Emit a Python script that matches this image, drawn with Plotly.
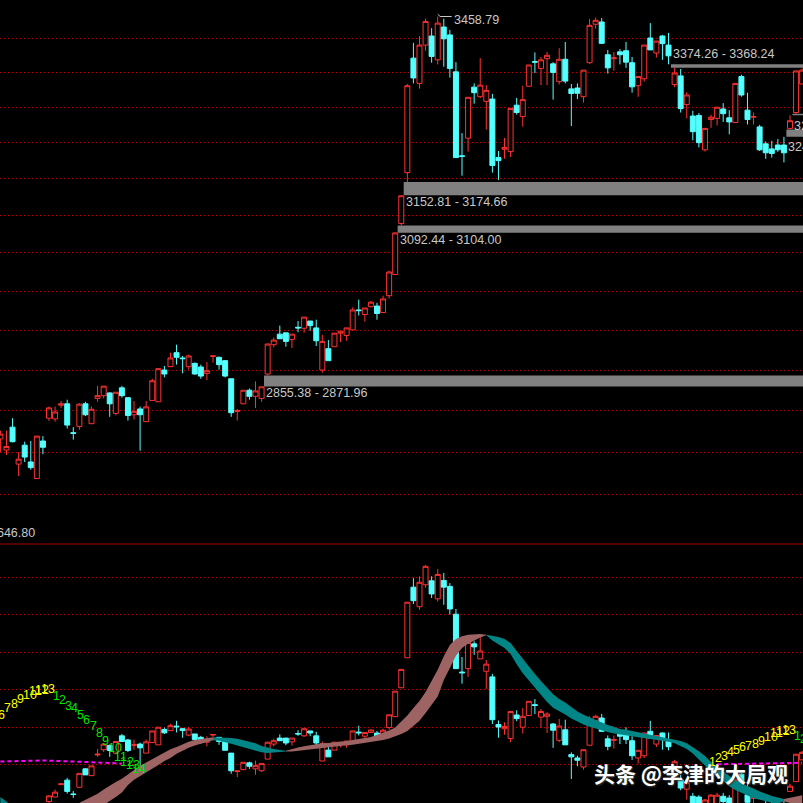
import math
import plotly.graph_objects as go

bars = list(range(133))

# ---------------- top panel (index K-line, log scale) ----------------
top_open = [2779, 2763, 2796, 2743, 2770, 2746, 2722.5, 2776, 2809, 2808,
            2828, 2830, 2788, 2797, 2830, 2801, 2838, 2842, 2846, 2816,
            2853.5, 2839, 2814, 2822.5, 2804, 2835, 2833, 2880, 2885, 2906,
            2898, 2885, 2890, 2884.5, 2875, 2900.5, 2899, 2894, 2867, 2819,
            2830, 2850, 2841, 2838, 2874, 2918, 2934, 2936, 2926, 2944.5,
            2943, 2954, 2943.5, 2880, 2912, 2915, 2935.5, 2932, 2940.5, 2971,
            2964, 2976, 2977, 2967, 2993, 3026, 3107, 3190, 3385, 3341,
            3408, 3424, 3382, 3440, 3426, 3361, 3218, 3247.5, 3334.5, 3318,
            3310, 3314, 3215, 3229, 3225, 3303.5, 3284, 3336, 3379, 3367,
            3384, 3375, 3344, 3383, 3331.5, 3333, 3318, 3377, 3445, 3449,
            3391, 3384, 3396, 3398, 3377, 3337, 3349, 3420.5, 3394, 3424,
            3408, 3339, 3354, 3304.5, 3285, 3286, 3228, 3279, 3281, 3297,
            3282, 3274, 3353, 3295, 3283, 3266.5, 3238, 3229.5, 3236, 3236,
            3264, 3291, 3340]
top_high = [2791, 2791, 2809, 2760, 2775, 2776, 2783.4, 2783, 2826, 2826,
            2834, 2836, 2796, 2831, 2833, 2826, 2856.5, 2856, 2847, 2847,
            2856.5, 2840, 2834, 2826, 2834, 2867, 2882, 2886, 2906, 2918,
            2901, 2903, 2891, 2888, 2892, 2901.5, 2900, 2895, 2867, 2822.5,
            2850, 2852.5, 2863, 2855.38, 2920, 2929, 2947, 2936, 2934, 2954,
            2960, 2954, 2956, 2933, 2925, 2935.5, 2939, 2943.5, 2975, 2987,
            2974, 2985, 2982, 2993, 3032, 3092.44, 3152.81, 3340, 3412, 3424,
            3455, 3438, 3458.79, 3455, 3435, 3378, 3256, 3317, 3341, 3385,
            3338, 3323, 3226, 3248, 3298, 3316, 3337, 3373, 3395, 3387,
            3396, 3378, 3402.5, 3413.5, 3340, 3341, 3364, 3454.5, 3457, 3456,
            3399.5, 3396, 3401, 3413.5, 3387, 3353, 3408, 3447, 3415, 3426,
            3429.5, 3368.24, 3366, 3326, 3294, 3290, 3264, 3287, 3300, 3307,
            3295, 3341, 3356, 3325, 3291, 3270, 3242, 3243, 3246, 3249.71,
            3286.12, 3363, 3367]
top_low = [2760, 2756, 2774, 2726, 2746, 2735, 2722, 2757, 2805, 2804,
           2824, 2794, 2778, 2792, 2812, 2801, 2833, 2838, 2811, 2813,
           2839, 2805.5, 2807, 2762, 2804, 2835, 2833, 2869, 2884.5, 2888,
           2875, 2880.5, 2873, 2867, 2865, 2891, 2880.5, 2869, 2811, 2805.5,
           2830, 2836, 2824, 2833, 2871.96, 2914, 2927, 2915, 2913, 2937,
           2936, 2939, 2916, 2876, 2894, 2915, 2922, 2924, 2940.5, 2962.5,
           2953, 2975, 2956, 2967, 2988.5, 3026, 3104.00, 3174.66, 3341, 3332,
           3398, 3377, 3374, 3370, 3351, 3215, 3185, 3225, 3306, 3316,
           3262, 3190, 3178, 3213, 3216, 3287.5, 3267, 3336, 3359, 3338,
           3338, 3313, 3339, 3341, 3268, 3314, 3308, 3375, 3437, 3410,
           3358, 3363, 3374, 3368, 3325, 3318, 3344, 3399.5, 3386, 3382,
           3374.26, 3334.5, 3291, 3281, 3244, 3232, 3225, 3265, 3269, 3275,
           3254, 3274, 3318, 3270.5, 3270.5, 3226, 3213, 3215, 3224.5, 3207,
           3262.35, 3288.90, 3340]
top_close = [2786, 2768, 2775, 2750, 2753, 2738, 2783, 2767, 2824, 2818,
             2830, 2799, 2787, 2829.5, 2814, 2822, 2842, 2856, 2830, 2847,
             2842, 2813, 2819, 2814, 2825.5, 2864, 2882, 2874, 2898, 2899,
             2897, 2901, 2874, 2871, 2879, 2901, 2888, 2871, 2817, 2820,
             2850, 2841, 2849, 2855, 2919, 2925, 2927, 2923, 2934, 2943.5,
             2960, 2947, 2924, 2923, 2894, 2935.5, 2938.5, 2943.5, 2971, 2970,
             2974, 2983, 2965.5, 2988, 3030, 3092, 3152, 3337, 3350.5, 3408,
             3450, 3388, 3447, 3419, 3367, 3215, 3217, 3317, 3325, 3338,
             3329, 3202, 3210, 3232, 3298, 3291, 3313, 3373, 3378, 3382,
             3390, 3360, 3383, 3345, 3323.5, 3324, 3364, 3443, 3452, 3411,
             3368, 3385.5, 3391, 3378, 3335, 3353, 3408, 3399.5, 3415, 3410.5,
             3389, 3359, 3297.6, 3321, 3258.5, 3240, 3264, 3283, 3300, 3289,
             3275, 3341, 3321, 3279, 3284, 3228, 3223, 3222, 3228, 3223,
             3277, 3362.6, 3364]

# ---------------- bottom panel (oscillator K-line) ----------------
ind_open = [-4.2, -5.8, -2.4, -7.9, -5.1, -7.6, -10.0, -4.5, 0.2, 1.4,
            4.7, 5.9, 2.2, 4.0, 8.9, 7.1, 12.6, 14.0, 15.1, 13.1,
            17.7, 16.6, 15.2, 15.5, 13.1, 15.9, 15.3, 19.4, 19.1, 20.3,
            19.6, 17.9, 18.2, 17.3, 16.0, 17.9, 17.3, 16.2, 13.1, 8.2,
            8.7, 10.5, 8.9, 8.4, 11.5, 15.5, 17.1, 17.1, 16.1, 18.3,
            17.7, 19.0, 17.7, 11.0, 13.9, 13.9, 15.5, 15.3, 15.8, 18.7,
            17.6, 18.6, 18.45, 17.1, 19.9, 22.8, 30.5, 38.5, 57.3, 52.1,
            57.95, 59.0, 54.2, 59.1, 57.5, 50.1, 34.7, 35.6, 42.2, 38.2,
            34.9, 33.4, 20.7, 19.6, 17.0, 23.25, 20.0, 23.1, 26.0, 22.7,
            22.9, 20.85, 16.5, 19.3, 12.7, 11.8, 9.4, 15.2, 21.7, 22.45,
            16.9, 16.5, 18.2, 18.45, 16.4, 11.8, 12.4, 18.9, 15.5, 18.45,
            16.6, 9.6, 6.0, 3.5, 1.6, 1.4, -1.0, -1.0, -1.5, 1.6,
            1.15, -1.5, 7.5, 2.0, 1.07, -0.7, -1.0, -1.25, -0.7, -0.7,
            2.9, 5.5, 11.3]
ind_high = [-3.0, -3.0, -1.1, -6.1, -4.6, -4.5, -3.8, -3.8, 1.9, 3.4,
            5.0, 6.5, 3.0, 7.7, 9.1, 9.7, 14.2, 15.5, 15.3, 16.3,
            18.2, 16.9, 16.7, 15.9, 16.7, 19.0, 20.0, 19.9, 20.9, 21.7,
            19.8, 20.0, 18.2, 17.7, 17.6, 18.1, 17.4, 16.5, 13.1, 8.35,
            10.65, 10.8, 11.1, 10.3, 16.0, 16.9, 18.1, 17.1, 17.1, 19.2,
            19.6, 19.0, 18.8, 16.2, 15.2, 16.0, 16.1, 16.3, 19.0, 20.4,
            18.6, 19.4, 19.0, 19.6, 23.3, 29.6, 35.4, 53.3, 59.7, 60.2,
            63.2, 60.2, 62.1, 61.1, 58.4, 51.5, 38.7, 42.6, 42.9, 44.4,
            37.9, 34.2, 21.8, 21.3, 24.2, 24.5, 25.1, 26.9, 27.5, 24.85,
            24.0, 21.1, 22.2, 22.0, 13.3, 12.4, 14.0, 22.9, 23.3, 23.5,
            17.8, 17.8, 19.3, 20.0, 17.6, 13.85, 18.45, 21.7, 17.8, 18.6,
            18.6, 11.3, 7.35, 6.0, 2.5, 1.9, 0.9, 2.2, 2.5, 2.5,
            1.9, 6.0, 8.0, 5.1, 2.0, -0.3, 0.6, 0.6, 0.35, 0.9,
            4.95, 12.9, 13.7]
ind_low = [-6.1, -6.6, -4.6, -9.6, -7.6, -8.7, -10.0, -6.4, -0.2, 1.4,
           4.6, 2.3, 1.2, 4.0, 7.3, 7.1, 12.1, 13.4, 12.1, 13.1,
           16.2, 13.4, 14.0, 8.6, 13.1, 15.9, 15.3, 18.2, 19.0, 18.6,
           17.2, 17.6, 16.6, 15.6, 14.9, 17.4, 15.3, 13.7, 7.6, 6.7,
           8.7, 8.9, 7.35, 8.1, 11.5, 14.9, 16.4, 15.2, 15.1, 17.7,
           17.4, 17.6, 14.9, 11.0, 12.1, 13.9, 14.65, 14.5, 15.8, 17.8,
           16.5, 18.55, 16.5, 17.1, 19.3, 22.8, 30.5, 38.5, 52.8, 51.3,
           57.15, 54.4, 53.5, 52.6, 50.0, 35.6, 31.6, 33.4, 39.3, 38.2,
           30.2, 20.85, 17.2, 18.0, 16.0, 21.6, 18.3, 23.1, 23.5, 19.8,
           18.45, 14.5, 16.0, 15.3, 6.2, 9.6, 8.7, 15.2, 21.0, 18.9,
           13.85, 14.3, 15.5, 15.5, 11.3, 10.3, 11.8, 17.1, 14.7, 14.0,
           13.85, 9.1, 3.2, 0.7, -1.5, -2.6, -1.5, -1.5, -2.05, -0.7,
           -1.5, -2.05, 5.1, -0.7, -0.7, -3.65, -3.1, -2.6, -1.8, -2.85,
           2.9, 5.5, 11.3]
ind_close = [-3.5, -5.4, -4.6, -7.1, -6.8, -8.4, -3.8, -5.4, 1.7, 2.7,
             4.9, 2.9, 2.1, 7.7, 7.3, 9.7, 12.8, 15.5, 13.8, 16.2,
             16.2, 13.8, 15.3, 14.5, 16.1, 19.0, 20.0, 18.5, 20.4, 20.1,
             19.1, 19.5, 16.7, 16.2, 16.6, 18.05, 16.2, 13.85, 8.4, 8.34,
             10.65, 9.6, 9.75, 10.3, 16.0, 16.4, 16.4, 15.8, 17.1, 18.2,
             19.6, 18.45, 15.8, 15.6, 12.1, 16.0, 16.0, 16.3, 19.0, 18.5,
             18.6, 19.25, 17.4, 19.2, 23.3, 29.6, 35.4, 53.3, 53.7, 58.6,
             62.85, 55.5, 60.7, 57.3, 51.5, 35.6, 34.5, 42.6, 41.4, 40.3,
             36.8, 22.0, 20.05, 20.2, 24.2, 22.3, 22.9, 26.9, 25.8, 24.2,
             23.5, 19.2, 20.3, 15.3, 12.1, 11.2, 14.0, 21.7, 22.9, 18.9,
             14.9, 16.7, 17.6, 16.7, 12.4, 13.85, 18.45, 17.1, 17.8, 17.1,
             14.8, 10.8, 3.8, 5.3, -1.0, -1.5, 0.6, 1.9, 1.9, 0.2,
             -1.0, 6.0, 5.3, 0.0, 1.2, -3.4, -2.05, -1.8, -1.25, -1.5,
             4.3, 12.8, 13.3]

# two smoothed lines forming the ribbon
ribbon_fast = [-1.0, -2.3, -3.4, -4.2, -4.7, -5.0, -5.0, -4.7, -4.2, -3.4,
               -2.6, -1.8, -1.0, -0.2, 0.6, 1.4, 2.3, 3.4, 4.5, 5.4,
               6.3, 7.5, 8.7, 9.7, 10.6, 11.5, 12.5, 13.4, 14.1, 14.7,
               15.5, 16.1, 16.6, 16.9, 17.1, 17.3, 16.4, 16.1, 15.6, 15.1,
               14.6, 14.1, 13.7, 13.3, 13.1, 13.1, 13.3, 13.7, 14.2, 14.6,
               14.9, 15.2, 15.4, 15.7, 15.8, 15.9, 16.1, 16.3, 16.5, 16.8,
               17.1, 17.4, 17.9, 18.5, 19.1, 19.9, 21.4, 23.1, 25.1, 27.0,
               29.4, 32.3, 35.3, 38.9, 41.9, 43.5, 44.2, 44.6, 44.7, 44.8,
               44.6, 43.1, 42.2, 41.1, 39.5, 36.8, 34.4, 32.3, 30.7, 28.6,
               26.7, 25.2, 24.2, 23.4, 22.3, 21.4, 20.7, 20.1, 19.5, 19.1,
               18.7, 18.3, 18.1, 17.8, 17.6, 17.3, 17.0, 16.9, 16.6, 16.3,
               16.1, 15.7, 15.0, 14.2, 13.0, 11.3, 9.8, 8.1, 6.7, 5.7,
               4.3, 3.3, 2.5, 1.8, 1.1, 0.6, 0.3, -0.1, -0.3, 0.3,
               1.3, 1.7, 1.9]
ribbon_slow = [1.4, 0.1, -1.3, -2.3, -3.1, -3.9, -4.4, -4.7, -5.0, -5.0,
               -4.7, -4.4, -4.2, -3.6, -3.1, -2.3, -1.5, -0.7, 0.3, 1.4,
               2.6, 4.6, 6.0, 7.0, 7.9, 8.9, 9.9, 11.0, 11.8, 12.9,
               13.8, 14.5, 15.1, 15.6, 16.1, 16.5, 17.3, 17.3, 17.1, 16.9,
               16.5, 16.2, 15.7, 15.0, 14.5, 14.2, 13.9, 13.5, 13.5, 13.8,
               14.0, 14.2, 14.3, 14.6, 14.7, 14.9, 15.0, 15.2, 15.3, 15.6,
               15.8, 16.0, 16.3, 16.6, 17.0, 17.5, 18.2, 19.0, 20.3, 21.7,
               23.8, 25.9, 28.2, 32.6, 35.8, 39.0, 41.1, 42.2, 43.1, 43.9,
               44.5, 44.4, 44.0, 43.5, 42.4, 40.3, 38.2, 36.0, 34.2, 32.3,
               30.6, 28.8, 27.5, 26.6, 25.4, 24.2, 23.3, 22.6, 21.9, 21.4,
               20.6, 20.1, 19.5, 19.3, 18.9, 18.6, 18.3, 18.0, 17.7, 17.4,
               17.0, 16.7, 16.3, 15.7, 14.7, 13.6, 12.3, 10.7, 9.4, 8.2,
               7.0, 5.9, 5.1, 4.5, 3.7, 2.9, 2.2, 1.7, 1.3, 0.9,
               -0.2, -0.5, -0.7]

# price gaps: bar before the gap, edge of that bar, edge of the next bar
gap_bar = [43, 65, 66, 110, 129, 130]
gap_from = [2855.38, 3092.44, 3152.81, 3374.26, 3249.71, 3286.12]
gap_to = [2871.96, 3104.00, 3174.66, 3368.24, 3262.35, 3288.90]

peak_bar = 72
peak_value = 3458.79
floor_value = 2646.80

# sequence counts on the oscillator
cnt_yellow_bars = [0, 1, 2, 3, 4, 5, 6, 7,
                   117, 118, 119, 120, 121, 122, 123, 124, 125, 126, 127, 128, 129]
cnt_yellow_text = ["6", "7", "8", "9", "10", "11", "12", "13",
                   "1", "2", "3", "4", "5", "6", "7", "8", "9", "10", "11", "12", "13"]
cnt_yellow_vals = [23.2, 25.0, 26.1, 27.6, 28.5, 29.6, 30.0, 30.3,
                   10.6, 11.8, 12.2, 13.3, 13.8, 14.6, 15.1, 15.6, 16.2, 17.3, 18.4, 18.9, 19.3]
cnt_green_bars = [9, 10, 11, 12, 13, 14, 15, 16, 17, 18, 19, 20, 21, 22, 131, 132]
cnt_green_text = ["1", "2", "3", "4", "5", "6", "7", "8", "9", "10", "11", "12", "13", "14",
                  "1", "2"]
cnt_green_vals = [28.3, 27.2, 25.6, 25.2, 23.3, 21.8, 20.2, 18.4, 16.3, 14.4, 12.1, 10.8, 9.9, 8.9,
                  17.7, 16.8]

support_left_bars = [0, 7, 14, 20]
support_left_vals = [10.87, 11.13, 10.73, 10.33]
support_right_bars = [118, 132]
support_right_vals = [10.12, 10.52]

top_grid = [2700, 2760, 2820, 2880, 2940, 3000, 3060, 3120, 3180, 3240, 3300, 3360, 3420]
bottom_grid = [0, 10, 20, 30, 40, 50, 60]

# ---------------- styles ----------------
RED = "rgb(255,50,50)"
CYAN = "rgb(84,255,255)"
GRID = "rgb(190,0,0)"
LABEL = "rgb(200,200,200)"
PINK = "rgb(158,100,100)"
TEAL = "rgb(0,134,134)"
NARROW = "Liberation Sans, Arial, sans-serif"

fig = go.Figure()

# ribbon (colour by which line is on top)
n = len(ribbon_fast)
sign = [(ribbon_fast[i] + ribbon_fast[i + 1]) >= (ribbon_slow[i] + ribbon_slow[i + 1]) for i in range(n - 1)]
runs = []
a = 0
for i in range(1, n - 1):
    if sign[i] != sign[a]:
        runs.append((a, i, sign[a]))
        a = i
runs.append((a, n - 1, sign[a]))
for want, col in ((True, PINK), (False, TEAL)):
    xs, ys = [], []
    for (s, e, sg) in runs:
        if sg != want:
            continue
        pts = list(range(s, e + 1))
        xs += pts + pts[::-1] + [None]
        ys += [max(ribbon_fast[j], ribbon_slow[j]) for j in pts] + \
              [min(ribbon_fast[j], ribbon_slow[j]) for j in pts[::-1]] + [None]
    fig.add_trace(go.Scatter(x=xs, y=ys, xaxis="x2", yaxis="y2", mode="lines",
                             fill="toself", fillcolor=col, line=dict(width=0, color=col),
                             hoverinfo="skip", showlegend=False))

# support dashed lines
for bx, vy in ((support_left_bars, support_left_vals), (support_right_bars, support_right_vals)):
    fig.add_trace(go.Scatter(x=bx, y=vy, xaxis="x2", yaxis="y2", mode="lines",
                             line=dict(color="#ff00ff", width=2, dash="4px,3px"),
                             hoverinfo="skip", showlegend=False))

# gap bands
for b, p0, p1 in zip(gap_bar, gap_from, gap_to):
    lo, hi = min(p0, p1), max(p0, p1)
    x0, x1 = b + 0.4, 140
    fig.add_trace(go.Scatter(x=[x0, x1, x1, x0, x0], y=[lo, lo, hi, hi, lo], xaxis="x", yaxis="y",
                             mode="lines", fill="toself", fillcolor="rgb(128,128,128)",
                             line=dict(width=0, color="rgb(128,128,128)"),
                             hoverinfo="skip", showlegend=False))

# peak marker
fig.add_trace(go.Scatter(x=[peak_bar, peak_bar + 0.4, peak_bar + 2.3], y=[peak_value * 1.0012, peak_value, peak_value],
                         xaxis="x", yaxis="y", mode="lines", line=dict(color=LABEL, width=1),
                         hoverinfo="skip", showlegend=False))

candle_style = dict(increasing=dict(line=dict(color=RED, width=1), fillcolor="black"),
                    decreasing=dict(line=dict(color=CYAN, width=1), fillcolor=CYAN),
                    whiskerwidth=0, hoverinfo="skip", showlegend=False)
fig.add_trace(go.Candlestick(x=bars, open=top_open, high=top_high, low=top_low, close=top_close,
                             xaxis="x", yaxis="y", **candle_style))
fig.add_trace(go.Candlestick(x=bars, open=ind_open, high=ind_high, low=ind_low, close=ind_close,
                             xaxis="x2", yaxis="y2", **candle_style))

annotations = []
label_dy = [-6.5, -7, -7, 10, -9.7, -10.5]
for b, p0, p1, dy in zip(gap_bar, gap_from, gap_to, label_dy):
    edge = min(p0, p1) if dy < 0 else max(p0, p1)
    annotations.append(dict(x=b + 0.4, y=math.log10(edge), xref="x", yref="y",
                            text=f"{p0:.2f} - {p1:.2f}", showarrow=False,
                            xanchor="left", yanchor="middle", xshift=0, yshift=dy,
                            font=dict(family=NARROW, size=12.5, color=LABEL)))
annotations.append(dict(x=peak_bar + 2.3, y=math.log10(peak_value), xref="x", yref="y",
                        text=f"{peak_value:.2f}", showarrow=False, xanchor="left", yanchor="middle",
                        yshift=-3, font=dict(family=NARROW, size=12.5, color=LABEL)))
annotations.append(dict(x=37 / 803, y=(803 - 533) / 803, xref="paper", yref="paper",
                        text=f"{floor_value:.2f}", showarrow=False, xanchor="right", yanchor="middle",
                        font=dict(family=NARROW, size=12.5, color=LABEL)))
for bx, tx, vy, col in ((cnt_yellow_bars, cnt_yellow_text, cnt_yellow_vals, "#ffff00"),
                        (cnt_green_bars, cnt_green_text, cnt_green_vals, "rgb(0,230,0)")):
    for b, t, v in zip(bx, tx, vy):
        annotations.append(dict(x=b, y=v, xref="x2", yref="y2", text=t, showarrow=False,
                                xanchor="left", yanchor="middle", xshift=-4,
                                font=dict(family=NARROW, size=12.5, color=col)))
annotations.append(dict(x=592 / 803, y=(803 - 773) / 803, xref="paper", yref="paper",
                        text="头条 @李津的大局观", showarrow=False, xanchor="left", yanchor="middle",
                        font=dict(family="Noto Sans CJK SC", size=21, color="white", weight=700,
                                  shadow="1px 1px 2px rgb(60,60,60)")))

axis_common = dict(showticklabels=False, ticks="", zeroline=False, showline=False, fixedrange=True)
fig.update_layout(
    width=803, height=803, margin=dict(l=0, r=0, t=0, b=0),
    paper_bgcolor="black", plot_bgcolor="black", hovermode=False, showlegend=False,
    boxgap=0.18, boxgroupgap=0,
    xaxis=dict(domain=[0, 1], anchor="y", range=[-0.066, 132.14], showgrid=False,
               rangeslider=dict(visible=False), **axis_common),
    xaxis2=dict(domain=[0, 1], anchor="y2", range=[-0.066, 132.14], showgrid=False,
                rangeslider=dict(visible=False), **axis_common),
    yaxis=dict(domain=[(803 - 533) / 803, 1], anchor="x", type="log",
               range=[math.log10(floor_value), math.log10(3488.5)],
               tickvals=top_grid, showgrid=True, gridcolor=GRID, gridwidth=1, griddash="1px,3px",
               **axis_common),
    yaxis2=dict(domain=[0, (803 - 544) / 803], anchor="x2", range=[-0.19, 68.8],
                tickvals=bottom_grid, showgrid=True, gridcolor=GRID, gridwidth=1, griddash="1px,3px",
                **axis_common),
    shapes=[dict(type="line", xref="paper", yref="paper", x0=0, x1=1,
                 y0=(803 - 544) / 803, y1=(803 - 544) / 803,
                 line=dict(color="rgb(170,0,0)", width=1))],
    annotations=annotations,
)

fig.write_html("out.html", config={"displayModeBar": False},
               post_script="document.body.style.margin='0';document.body.style.overflow='hidden';")
